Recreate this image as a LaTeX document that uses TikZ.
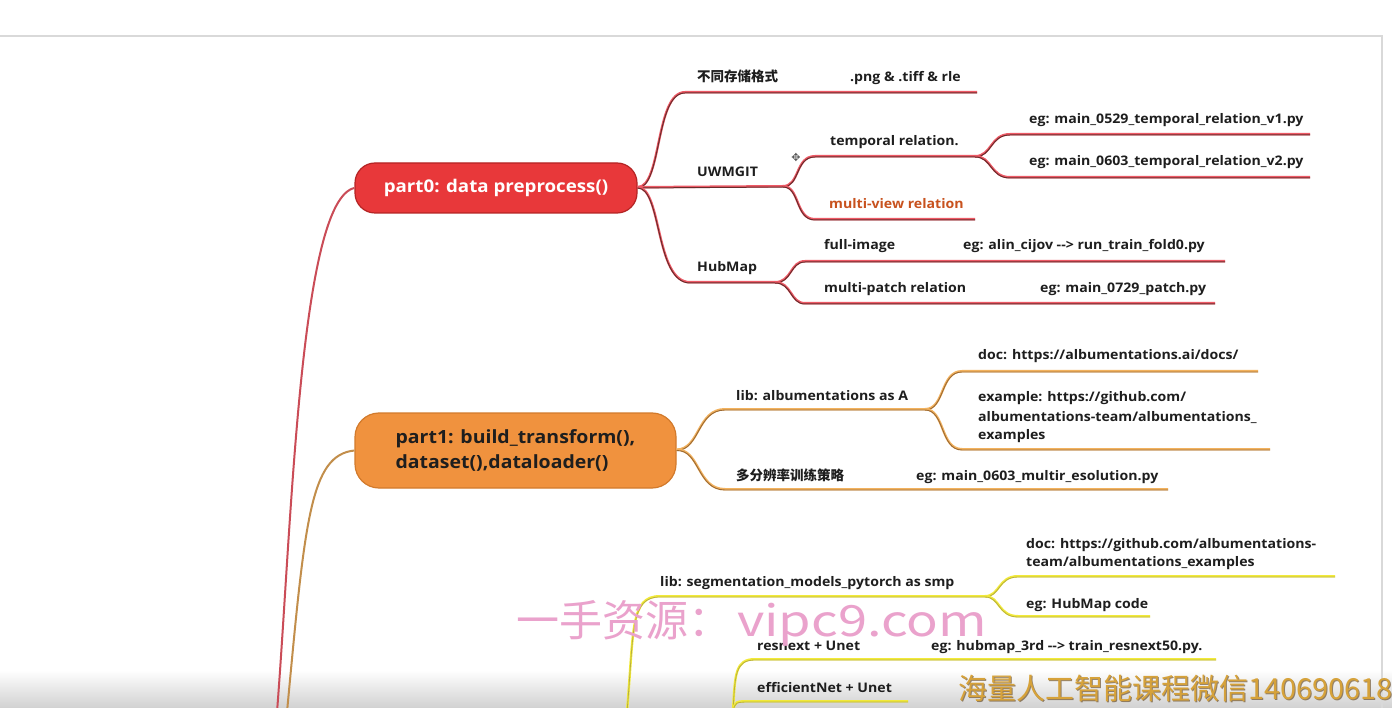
\documentclass[tikz,border=0pt]{standalone}
\usepackage{fontspec}
\setmainfont{Open Sans}[FakeStretch=1.07]
\newfontfamily\cjk{Noto Sans CJK SC}
\newfontfamily\sym{DejaVu Sans}
\definecolor{rglow}{HTML}{EE5A66}
\definecolor{rcore}{HTML}{6A2C2C}
\definecolor{oglow}{HTML}{F2B25E}
\definecolor{ocore}{HTML}{9C6A34}
\definecolor{yglow}{HTML}{F2EA3A}
\definecolor{ycore}{HTML}{B8B040}
\definecolor{p0fill}{HTML}{E8383A}
\definecolor{p0edge}{HTML}{B42424}
\definecolor{p1fill}{HTML}{F0923E}
\definecolor{p1edge}{HTML}{D27A2C}
\definecolor{txt}{HTML}{1E1E1E}
\definecolor{mvcol}{HTML}{C8521E}
\definecolor{frame}{HTML}{D9D9D9}
\definecolor{wmpink}{HTML}{EAA2CC}
\definecolor{wmgold}{HTML}{D6A23A}
\definecolor{wmshadow}{HTML}{5A3A10}
\newcommand\arr{-\kern0pt-\kern0pt>}
\tikzset{
  lbl/.style={font=\bfseries\fontsize{13.2}{15}\selectfont, text=txt, inner sep=0pt, anchor=base west},
  clbl/.style={font=\cjk\bfseries\fontsize{13.5}{15}\selectfont, text=txt, inner sep=0pt, anchor=base west},
  rbr/.style={draw=rcore, line width=1.0pt, preaction={draw=rglow, line width=2.4pt, transform canvas={yshift=0.8pt}}},
  obr/.style={draw=ocore, line width=0.9pt, preaction={draw=oglow, line width=2.4pt, transform canvas={yshift=0.8pt}}},
  ybr/.style={draw=ycore, line width=0.8pt, preaction={draw=yglow, line width=2.4pt, transform canvas={yshift=0.8pt}}},
  mainnode/.style={rounded corners=20pt, inner sep=0pt, line width=1.2pt},
}
\begin{document}
\begin{tikzpicture}[x=1pt,y=-1pt]
\useasboundingbox (0,0) rectangle (1392,708);
\fill[white] (0,0) rectangle (1392,708);
% bottom shading
\shade[top color=white, bottom color=black!18] (0,670) rectangle (1392,708);
% frame
\draw[frame, line width=2.5pt] (0,36) -- (1382,36) -- (1382,708);

% main nodes
\node[mainnode, fill=p0fill, draw=p0edge, minimum width=282pt, minimum height=50pt,
      font=\bfseries\fontsize{17.5}{20}\selectfont, text=white] (p0) at (496,188) {part0: data preprocess()};
\node[mainnode, fill=p1fill, draw=p1edge, minimum width=321pt, minimum height=75pt, rounded corners=24pt,
      font=\bfseries\fontsize{18.2}{24.5}\selectfont, text=txt, align=left] (p1) at (515.5,450.5)
      {part1: build\_transform(),\\dataset(),dataloader()};

% trunks
\coordinate (rB) at (277,712);
\coordinate (oB) at (287,712);
\draw[draw=rglow!85!black, line width=2pt] (rB) .. controls (292,520) and (300,200) .. (p0.west);
\draw[draw=oglow!80!black, line width=2pt] (oB) .. controls (305,520) and (310,455) .. (p1.west);

% ---------- red branch ----------
\coordinate (aS) at (685,93);   \coordinate (aE) at (977,93);
\draw[rbr] (p0.east) .. controls (662,188) and (655,93) .. (aS) -- (aE);
\coordinate (uwF) at (783,187);
\draw[rbr] (p0.east) -- (uwF);
\coordinate (tS) at (815,157);  \coordinate (tF) at (975,157);
\draw[rbr] (uwF) .. controls (800,187) and (795,157) .. (tS) -- (tF);
\coordinate (mvS) at (815,220); \coordinate (mvE) at (975,220);
\draw[rbr] (uwF) .. controls (800,187) and (795,220) .. (mvS) -- (mvE);
\coordinate (v1S) at (1010,135); \coordinate (v1E) at (1310,135);
\coordinate (v2S) at (1010,178); \coordinate (v2E) at (1310,178);
\draw[rbr] (tF) .. controls (992,157) and (990,135) .. (v1S) -- (v1E);
\draw[rbr] (tF) .. controls (992,157) and (990,178) .. (v2S) -- (v2E);
\coordinate (hS) at (690,283); \coordinate (hF) at (775,283);
\draw[rbr] (p0.east) .. controls (662,188) and (655,283) .. (hS) -- (hF);
\coordinate (fS) at (805,262); \coordinate (fE) at (1225,262);
\coordinate (mpS) at (805,304); \coordinate (mpE) at (1215,304);
\draw[rbr] (hF) .. controls (792,283) and (790,262) .. (fS) -- (fE);
\draw[rbr] (hF) .. controls (792,283) and (790,304) .. (mpS) -- (mpE);

\node[clbl] (fmt) at (697,82) {不同存储格式};
\node[lbl] (fmtx) at (850,82) {.png \& .tiff \& rle};
\node[lbl] (uw) at (697,177) {UWMGIT};
\node[lbl] (tr) at (830,146) {temporal relation.};
\node[lbl, text=mvcol] (mv) at (829,209) {multi-view relation};
\node[lbl] (v1) at (1029,124) {eg: main\_0529\_temporal\_relation\_v1.py};
\node[lbl] (v2) at (1029,166) {eg: main\_0603\_temporal\_relation\_v2.py};
\node[lbl] (hub) at (697,272) {HubMap};
\node[lbl] (fi) at (824,250) {full-image};
\node[lbl] (fix) at (963,250) {eg: alin\_cijov \arr{} run\_train\_fold0.py};
\node[lbl] (mp) at (824,293) {multi-patch relation};
\node[lbl] (mpx) at (1040,293) {eg: main\_0729\_patch.py};
\node[font=\sym\fontsize{11}{11}\selectfont, text=black!65, inner sep=0pt] (cur) at (796,157) {✥};

% ---------- orange branch ----------
\coordinate (laS) at (725,410); \coordinate (laF) at (925,410);
\draw[obr] (p1.east) .. controls (700,450) and (697,410) .. (laS) -- (laF);
\coordinate (dS) at (962,372); \coordinate (dE) at (1258,372);
\coordinate (eS) at (962,450); \coordinate (eE) at (1270,450);
\draw[obr] (laF) .. controls (945,410) and (940,372) .. (dS) -- (dE);
\draw[obr] (laF) .. controls (945,410) and (940,450) .. (eS) -- (eE);
\coordinate (mrS) at (725,490); \coordinate (mrE) at (1168,490);
\draw[obr] (p1.east) .. controls (700,450) and (697,490) .. (mrS) -- (mrE);

\node[lbl] (la) at (736,400) {lib: albumentations as A};
\node[lbl] (doc) at (978,360) {doc: https://albumentations.ai/docs/};
\node[lbl] (ex1) at (978,402) {example: https://github.com/};
\node[lbl] (ex2) at (978,421) {albumentations-team/albumentations\_};
\node[lbl] (ex3) at (978,439) {examples};
\node[clbl] (mr) at (736,480) {多分辨率训练策略};
\node[lbl] (mrx) at (916,480) {eg: main\_0603\_multir\_esolution.py};

% ---------- yellow branch ----------
\coordinate (y1B) at (627,712);
\coordinate (smS) at (660,597); \coordinate (smF) at (985,597);
\draw[ybr] (y1B) .. controls (634,630) and (630,597) .. (smS) -- (smF);
\coordinate (d2S) at (1018,577); \coordinate (d2E) at (1335,577);
\coordinate (hcS) at (1018,617); \coordinate (hcE) at (1150,617);
\draw[ybr] (smF) .. controls (1000,597) and (998,577) .. (d2S) -- (d2E);
\draw[ybr] (smF) .. controls (1000,597) and (998,617) .. (hcS) -- (hcE);
\coordinate (y2B) at (733,712);
\coordinate (rxS) at (755,660); \coordinate (rxE) at (1216,660);
\draw[ybr] (y2B) .. controls (735,675) and (735,660) .. (rxS) -- (rxE);
\coordinate (efS) at (752,702); \coordinate (efE) at (908,702);
\draw[ybr] (y2B) .. controls (735,702) .. (efS) -- (efE);

\node[lbl] (sm) at (660,586) {lib: segmentation\_models\_pytorch as smp};
\node[lbl] (d21) at (1026,548) {doc: https://github.com/albumentations-};
\node[lbl] (d22) at (1026,566) {team/albumentations\_examples};
\node[lbl] (hc) at (1026,608) {eg: HubMap code};
\node[lbl] (rx) at (757,650) {resnext + Unet};
\node[lbl] (rxx) at (931,650) {eg: hubmap\_3rd \arr{} train\_resnext50.py.};
\node[lbl] (ef) at (757,692) {efficientNet + Unet};

% watermarks
\node[font=\cjk\fontsize{43}{43}\selectfont, text=wmpink, inner sep=0pt, anchor=west] (wm1) at (516,623)
  {一手资源：\hspace{6pt}\scalebox{1.22}[1]{vipc9.com}};
\begin{scope}
\clip (0,0) rectangle (1392,708);
\node[font=\cjk\fontsize{29}{29}\selectfont, text=wmshadow, opacity=0.6, inner sep=0pt, anchor=west] (wm2s) at (959,689) {海量人工智能课程微信140690618};
\node[font=\cjk\fontsize{29}{29}\selectfont, text=wmgold, inner sep=0pt, anchor=west] (wm2) at (958,688) {海量人工智能课程微信140690618};
\end{scope}
\end{tikzpicture}
\end{document}
